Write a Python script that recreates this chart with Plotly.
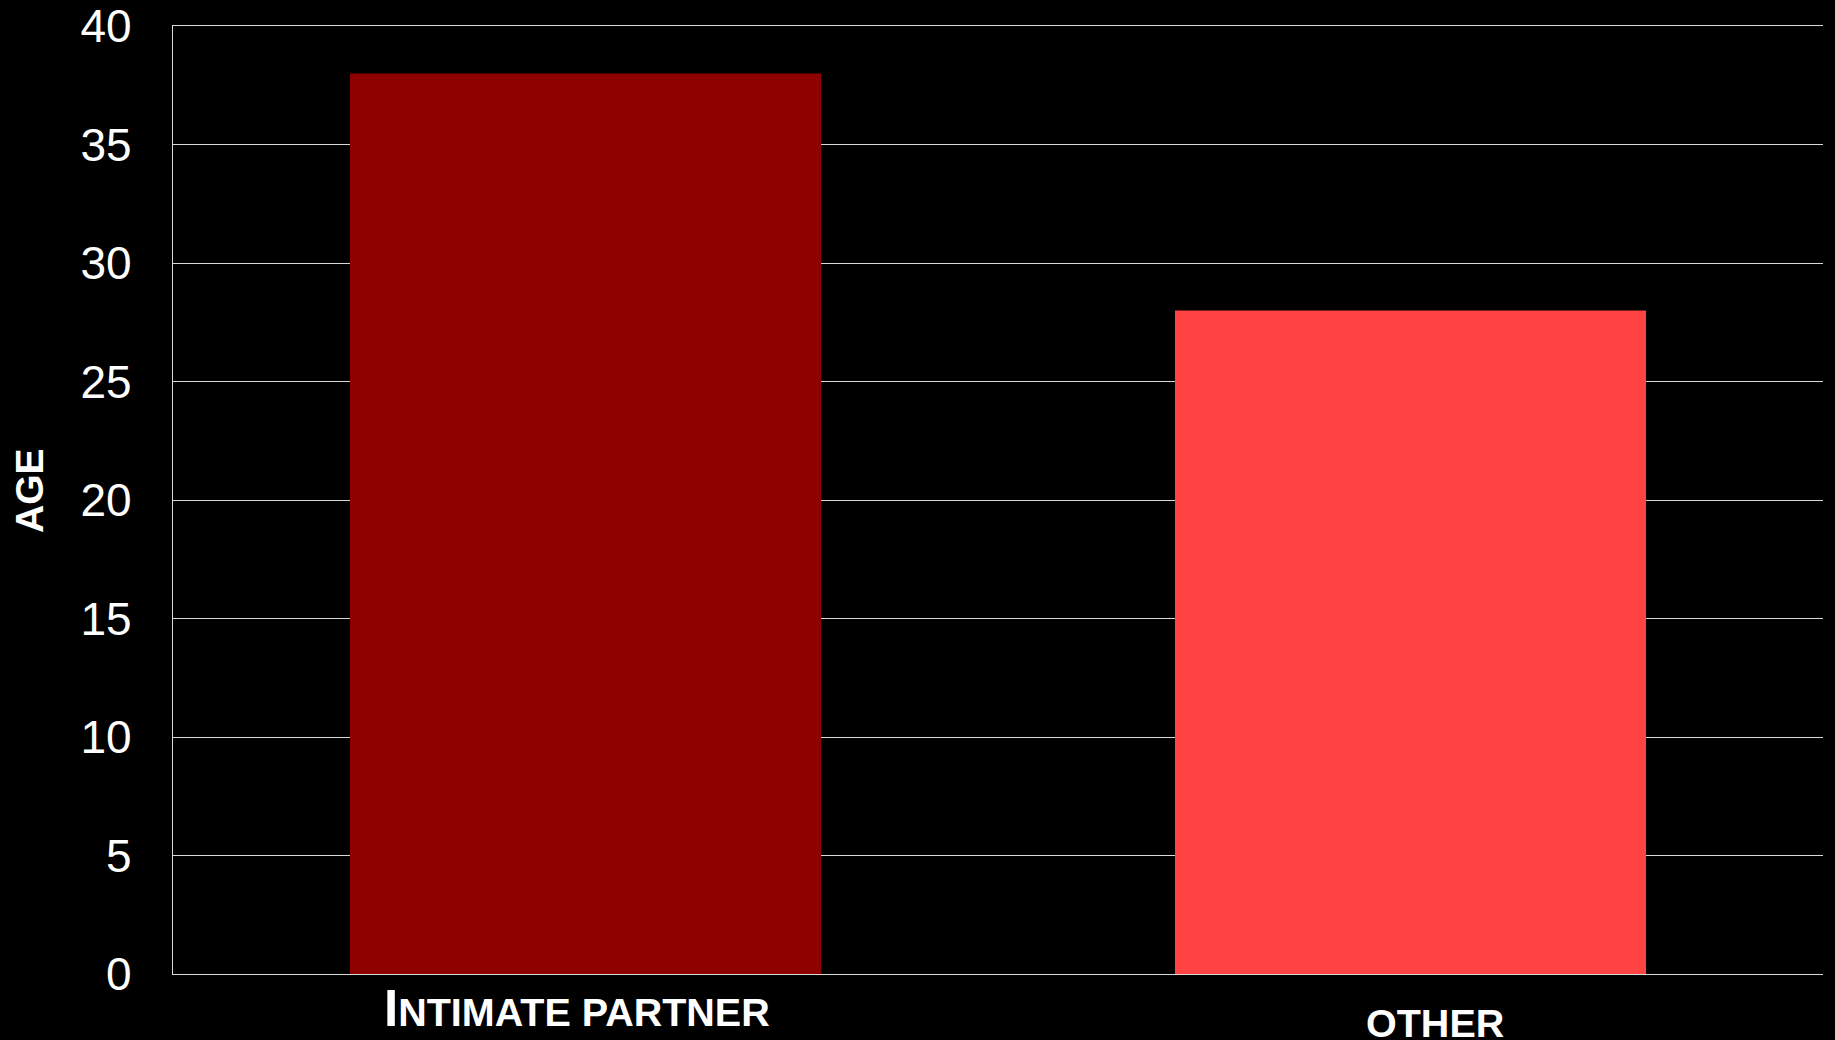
import plotly.graph_objects as go

categories = ["INTIMATE PARTNER", "OTHER"]
ages = [38, 28]
bar_colors = ["#8F0000", "#FF4343"]
y_ticks = [0, 5, 10, 15, 20, 25, 30, 35, 40]

FONT = "Liberation Sans, Arial, sans-serif"

fig = go.Figure()
fig.add_trace(go.Bar(
    x=categories,
    y=ages,
    marker=dict(color=bar_colors, line=dict(width=0)),
    width=0.571,
    hoverinfo="x+y",
))

fig.update_layout(
    width=1835,
    height=1040,
    paper_bgcolor="black",
    plot_bgcolor="black",
    margin=dict(l=173, r=12, t=26, b=66),
    showlegend=False,
    font=dict(family=FONT, color="white"),
    bargap=0.429,
)

fig.update_yaxes(
    range=[0, 40],
    tickvals=y_ticks,
    ticktext=[str(v) for v in y_ticks],
    tickfont=dict(family=FONT, size=46, color="white"),
    ticks="",
    ticklabelstandoff=31,
    showgrid=True,
    gridcolor="#D9D9D9",
    gridwidth=1.3,
    showline=True,
    linecolor="#D9D9D9",
    linewidth=1.3,
    zeroline=False,
    automargin=False,
)

fig.update_xaxes(
    showticklabels=False,
    showgrid=False,
    showline=True,
    mirror=True,
    linecolor="#D9D9D9",
    linewidth=1.3,
    ticks="",
    automargin=False,
)

# y-axis title
fig.add_annotation(
    x=0, y=0.5, xref="paper", yref="paper",
    text="<b>AGE</b>", textangle=-90, showarrow=False,
    xanchor="center", yanchor="middle",
    xshift=-144, yshift=9,
    font=dict(family=FONT, size=39, color="white"),
)

# category labels, placed at the category positions of the x axis
label_texts = [
    "<b><span style='font-size:51px'>I</span>NTIMATE PARTNER</b>",
    "<b>OTHER</b>",
]
label_xshift = [-9, 24]
label_yshift = [-4, -25]
for cat, txt, xs, ys in zip(categories, label_texts, label_xshift, label_yshift):
    fig.add_annotation(
        x=cat, y=0, xref="x", yref="y",
        text=txt, showarrow=False,
        xanchor="center", yanchor="top",
        xshift=xs, yshift=ys,
        font=dict(family=FONT, size=39.5, color="white"),
    )

fig.write_html(
    "out.html",
    config={"displayModeBar": False},
    post_script="document.body.style.margin='0';document.body.style.background='black';",
)
